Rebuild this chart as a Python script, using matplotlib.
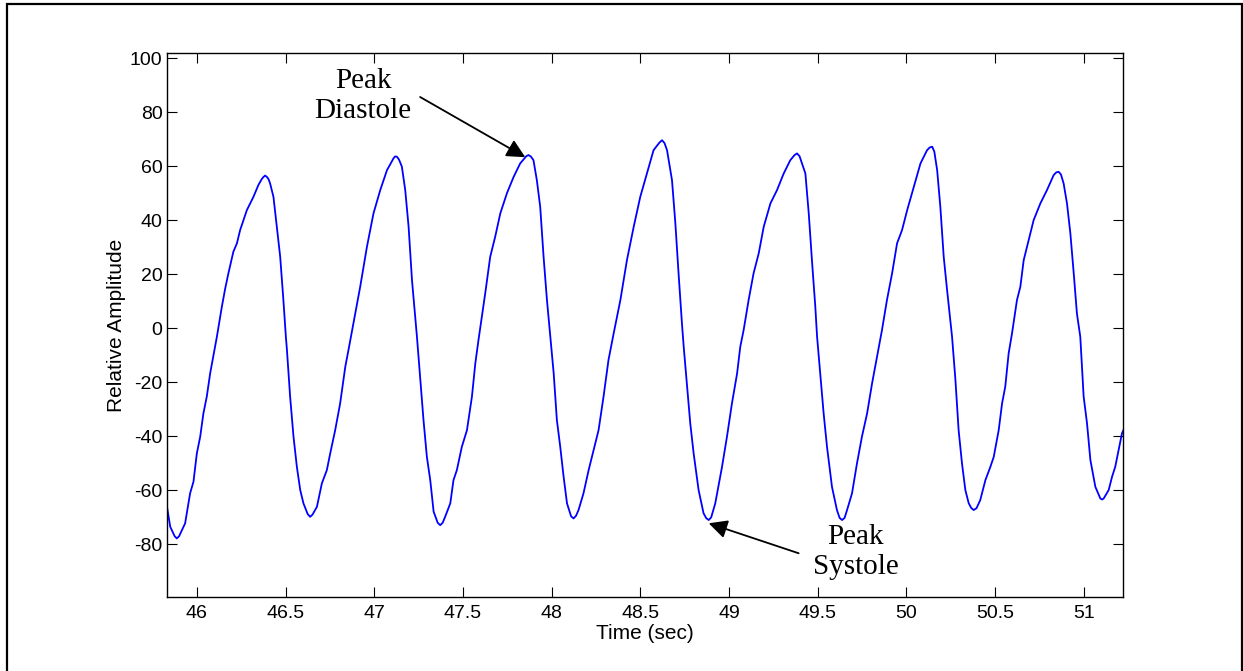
import matplotlib
matplotlib.use("Agg")
import matplotlib.pyplot as plt
from matplotlib.patches import Rectangle

# waveform (time in sec, relative amplitude)
time_sec = [
    45.830, 45.850, 45.875, 45.887, 45.900, 45.934, 45.962, 45.981, 46.000, 46.019,
    46.037, 46.056, 46.075, 46.094, 46.113, 46.141, 46.160, 46.178, 46.206, 46.226,
    46.244, 46.282, 46.319, 46.347, 46.366, 46.376, 46.385, 46.395, 46.404, 46.413,
    46.432, 46.451, 46.470, 46.488, 46.502, 46.508, 46.526, 46.545, 46.564, 46.583,
    46.601, 46.625, 46.639, 46.652, 46.677, 46.705, 46.733, 46.752, 46.780, 46.808,
    46.837, 46.855, 46.874, 46.893, 46.921, 46.959, 46.996, 47.034, 47.072, 47.109,
    47.118, 47.128, 47.140, 47.156, 47.175, 47.194, 47.213, 47.241, 47.260, 47.278,
    47.297, 47.316, 47.335, 47.358, 47.372, 47.386, 47.400, 47.429, 47.447, 47.466,
    47.494, 47.523, 47.551, 47.570, 47.588, 47.626, 47.654, 47.682, 47.711, 47.748,
    47.786, 47.823, 47.858, 47.870, 47.884, 47.898, 47.917, 47.936, 47.955, 47.974,
    47.993, 48.012, 48.030, 48.049, 48.068, 48.087, 48.110, 48.124, 48.138, 48.152,
    48.180, 48.209, 48.237, 48.265, 48.293, 48.321, 48.350, 48.388, 48.425, 48.463,
    48.500, 48.538, 48.575, 48.608, 48.623, 48.637, 48.651, 48.679, 48.698, 48.716,
    48.735, 48.745, 48.764, 48.782, 48.801, 48.829, 48.857, 48.872, 48.886, 48.900,
    48.923, 48.961, 48.989, 49.017, 49.046, 49.064, 49.083, 49.111, 49.139, 49.168,
    49.196, 49.234, 49.271, 49.309, 49.346, 49.370, 49.384, 49.398, 49.412, 49.431,
    49.450, 49.468, 49.487, 49.497, 49.515, 49.534, 49.553, 49.581, 49.609, 49.624,
    49.638, 49.652, 49.666, 49.694, 49.722, 49.750, 49.779, 49.807, 49.835, 49.863,
    49.891, 49.920, 49.948, 49.976, 50.005, 50.042, 50.080, 50.117, 50.132, 50.146,
    50.158, 50.174, 50.192, 50.211, 50.230, 50.258, 50.277, 50.295, 50.314, 50.333,
    50.352, 50.366, 50.380, 50.396, 50.417, 50.446, 50.474, 50.493, 50.521, 50.540,
    50.558, 50.577, 50.596, 50.624, 50.643, 50.662, 50.690, 50.718, 50.756, 50.793,
    50.831, 50.846, 50.859, 50.872, 50.887, 50.906, 50.925, 50.944, 50.962, 50.981,
    51.000, 51.019, 51.038, 51.066, 51.094, 51.104, 51.113, 51.141, 51.160, 51.178,
    51.197, 51.216, 51.229,
]
amplitude = [
    -65.4, -73.5, -77.0, -77.8, -77.0, -72.2, -61.1, -56.8, -46.3, -40.1,
    -31.5, -25.3, -16.7, -9.9, -3.1, 8.0, 14.8, 20.4, 28.4, 31.5,
    36.4, 43.8, 48.7, 53.1, 55.3, 56.1, 56.6, 56.1, 55.3, 53.7,
    48.7, 37.6, 26.5, 10.5, -3.1, -8.0, -25.3, -40.1, -51.3, -59.9,
    -64.8, -68.8, -69.8, -69.0, -66.1, -57.4, -52.5, -46.3, -37.7, -27.8,
    -14.2, -8.0, -1.2, 5.5, 15.4, 30.2, 42.6, 51.2, 58.6, 63.0,
    63.7, 63.6, 62.5, 59.9, 51.2, 37.6, 17.9, -3.1, -19.1, -34.0,
    -47.6, -56.2, -67.9, -72.0, -72.9, -72.0, -69.8, -64.8, -56.2, -52.5,
    -43.9, -37.7, -25.3, -13.0, -4.3, 13.0, 26.5, 33.9, 42.6, 50.0,
    56.1, 61.1, 63.8, 64.2, 63.6, 62.3, 54.9, 45.0, 26.5, 10.5,
    -3.1, -16.7, -34.0, -43.9, -55.0, -64.8, -69.6, -70.4, -69.4, -67.3,
    -61.1, -52.5, -45.1, -37.7, -25.3, -11.7, -1.9, 10.5, 25.3, 37.6,
    48.7, 57.4, 66.0, 68.8, 69.7, 68.6, 66.0, 54.9, 38.9, 20.4,
    1.9, -6.8, -21.6, -35.2, -46.3, -59.9, -68.5, -70.3, -71.0, -70.0,
    -64.8, -51.3, -40.1, -27.8, -16.7, -6.8, -0.6, 10.5, 20.4, 27.8,
    37.6, 46.3, 51.2, 57.4, 62.3, 64.2, 64.8, 63.8, 61.1, 57.4,
    42.6, 25.3, 8.0, -3.1, -16.7, -31.5, -43.9, -58.7, -67.3, -70.2,
    -71.0, -70.2, -67.3, -61.1, -50.0, -40.1, -31.5, -20.4, -10.5, -0.6,
    10.5, 20.4, 31.5, 36.4, 43.8, 52.4, 61.1, 66.0, 67.0, 67.3,
    65.5, 58.6, 45.0, 26.5, 14.2, -3.1, -19.1, -37.7, -50.0, -59.9,
    -64.8, -66.5, -67.3, -66.6, -63.6, -56.2, -51.3, -47.6, -37.7, -27.8,
    -21.6, -9.3, -1.9, 10.5, 15.4, 25.3, 32.7, 40.1, 46.3, 51.2,
    56.8, 57.8, 58.0, 57.0, 53.7, 46.3, 35.2, 20.4, 5.5, -3.1,
    -25.3, -35.2, -48.8, -58.7, -63.0, -63.4, -63.0, -59.9, -55.0, -51.3,
    -45.1, -38.9, -37.0,
]

x_ticks = [46, 46.5, 47, 47.5, 48, 48.5, 49, 49.5, 50, 50.5, 51]
y_ticks = [-80, -60, -40, -20, 0, 20, 40, 60, 80, 100]

# annotation points (arrow head, arrow tail, text centre)
diastole_head = (47.852, 63.4)
diastole_tail = (47.259, 85.7)
diastole_text = (46.938, 86.2)
systole_head = (48.886, -72.2)
systole_tail = (49.393, -83.3)
systole_text = (49.713, -83.0)

sans = "Liberation Sans"
serif = "Liberation Serif"

fig = plt.figure(figsize=(12.43, 6.71), dpi=100)
ax = fig.add_axes([0.1341, 0.1103, 0.7691, 0.8107])

ax.plot(time_sec, amplitude, color=(0, 0, 1), lw=1.3)

ax.set_xlim(45.83, 51.22)
ax.set_ylim(-99.5, 102)
ax.set_xticks(x_ticks)
ax.set_xticklabels([f"{t:g}" for t in x_ticks], fontfamily=sans, fontsize=14)
ax.set_yticks(y_ticks)
ax.set_yticklabels([str(v) for v in y_ticks], fontfamily=sans, fontsize=14)
ax.tick_params(direction="in", length=7, width=0.8, top=True, right=True)
ax.tick_params(axis="x", pad=6)
ax.tick_params(axis="y", pad=3)
for s in ax.spines.values():
    s.set_linewidth(1.0)

ax.set_xlabel("Time (sec)", fontfamily=sans, fontsize=15, labelpad=1)
ax.set_ylabel("Relative Amplitude", fontfamily=sans, fontsize=15, labelpad=3)

arrow = dict(arrowstyle="-|>", color="black", lw=1.3, mutation_scale=28, shrinkA=0, shrinkB=0)
ax.annotate("", xy=diastole_head, xytext=diastole_tail, arrowprops=arrow)
ax.annotate("", xy=systole_head, xytext=systole_tail, arrowprops=arrow)
ax.text(*diastole_text, "Peak\nDiastole", ha="center", va="center", multialignment="center",
        fontfamily=serif, fontsize=21, linespacing=1.2)
ax.text(*systole_text, "Peak\nSystole", ha="center", va="center", multialignment="center",
        fontfamily=serif, fontsize=21, linespacing=1.2)

# outer frame around the whole figure
fig.patches.append(Rectangle((0.0056, -0.02), 0.9932, 1.014, transform=fig.transFigure,
                             fill=False, edgecolor="black", lw=1.6))

fig.savefig("out.png", dpi=100)
